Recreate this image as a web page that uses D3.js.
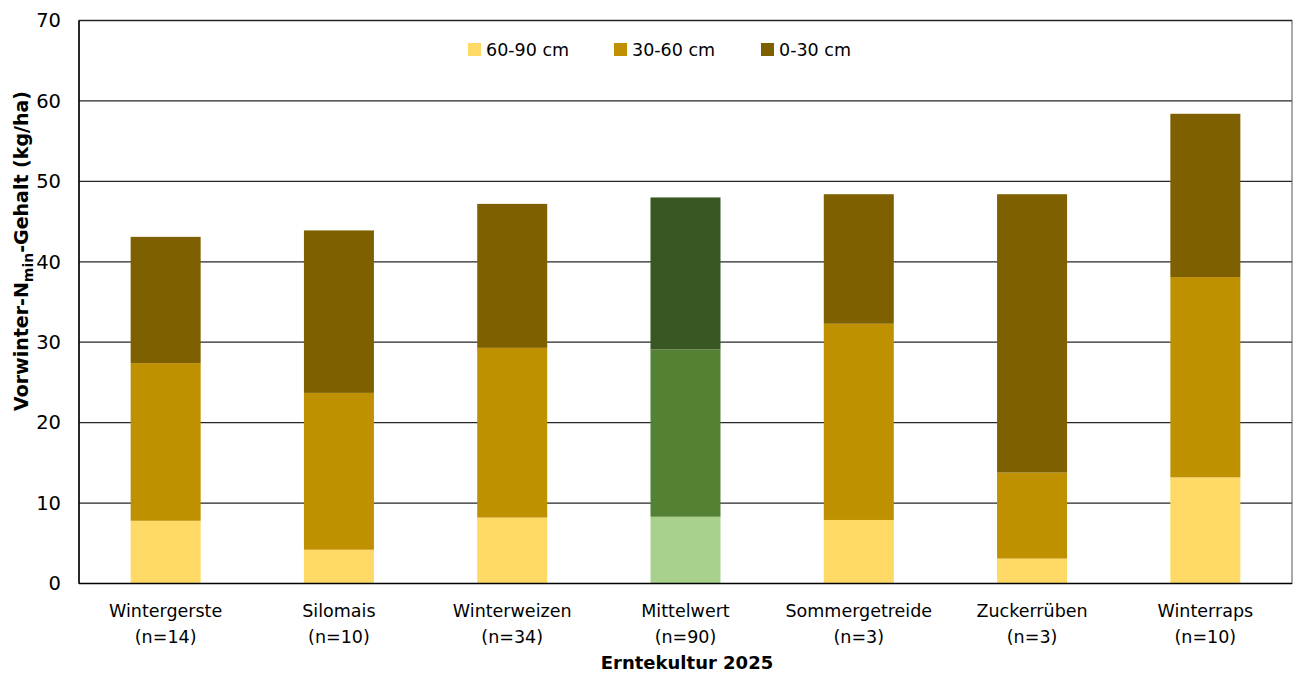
<!DOCTYPE html>
<html>
<meta charset="utf-8">
<script src="https://d3js.org/d3.v7.min.js"></script>
<style>
  body { margin: 0; background: #fff; }
  text { font-family: Tahoma, "DejaVu Sans", sans-serif; fill: #000; }
</style>
<body>
<div id="chart"></div>
<script>
var WIDTH = 1293, HEIGHT = 673;
var margin = {top: 20.5, right: 1, bottom: 89.5, left: 79};

// data
var categories = ["Wintergerste", "Silomais", "Winterweizen", "Mittelwert", "Sommergetreide", "Zuckerrüben", "Winterraps"];
var sampleSizes = ["(n=14)", "(n=10)", "(n=34)", "(n=90)", "(n=3)", "(n=3)", "(n=10)"];
var layers = ["60-90 cm", "30-60 cm", "0-30 cm"];
var deep   = [7.8, 4.2, 8.2, 8.3, 7.9, 3.1, 13.2];   // 60-90 cm
var middle = [19.6, 19.5, 21.1, 20.8, 24.4, 10.7, 24.9]; // 30-60 cm
var top30  = [15.7, 20.2, 17.9, 18.9, 16.1, 34.6, 20.3]; // 0-30 cm
var yTicks = [0, 10, 20, 30, 40, 50, 60, 70];

var colors = ["#FFD966", "#BF9000", "#7F6000"];
var meanColors = ["#A9D18E", "#548235", "#385723"];

var w = WIDTH - margin.left - margin.right;
var h = HEIGHT - margin.top - margin.bottom;

var svg = d3.select("#chart").append("svg")
    .attr("width", WIDTH).attr("height", HEIGHT);
var g = svg.append("g").attr("transform", "translate(" + margin.left + "," + margin.top + ")");

var x = d3.scaleBand().domain(categories).range([0, w]).paddingInner(0.596).paddingOuter(0.298);
var y = d3.scaleLinear().domain([0, 70]).range([h, 0]);

// gridlines
g.selectAll(".grid").data(yTicks.slice(1, -1)).enter().append("line")
    .attr("x1", 0).attr("x2", w)
    .attr("y1", function (d) { return y(d); }).attr("y2", function (d) { return y(d); })
    .attr("stroke", "#262626").attr("stroke-width", 1.3);

// stacked bars
var rows = categories.map(function (c, i) {
  return {cat: c, "60-90 cm": deep[i], "30-60 cm": middle[i], "0-30 cm": top30[i]};
});
var stacked = d3.stack().keys(layers)(rows);

stacked.forEach(function (layer, li) {
  g.selectAll(".bar" + li).data(layer).enter().append("rect")
      .attr("x", function (d) { return x(d.data.cat); })
      .attr("width", x.bandwidth())
      .attr("y", function (d) { return y(d[1]); })
      .attr("height", function (d) { return y(d[0]) - y(d[1]); })
      .attr("fill", function (d) { return d.data.cat === "Mittelwert" ? meanColors[li] : colors[li]; });
});

// frame
g.append("rect").attr("x", 0).attr("y", 0).attr("width", w).attr("height", h)
    .attr("fill", "none").attr("stroke", "#555").attr("stroke-width", 1);
g.append("line").attr("x1", 0).attr("x2", w).attr("y1", 0).attr("y2", 0)
    .attr("stroke", "#262626").attr("stroke-width", 1.5);
g.append("line").attr("x1", 0).attr("x2", 0).attr("y1", 0).attr("y2", h)
    .attr("stroke", "#000").attr("stroke-width", 1.5);
g.append("line").attr("x1", 0).attr("x2", w).attr("y1", h).attr("y2", h)
    .attr("stroke", "#000").attr("stroke-width", 1.5);

// y axis
var yAxis = g.append("g").call(d3.axisLeft(y).tickValues(yTicks).tickSize(0).tickPadding(18));
yAxis.select(".domain").remove();
yAxis.selectAll("text").style("font-size", "19.5px").style("font-family", "Tahoma, 'DejaVu Sans', sans-serif").attr("fill", "#000");

// x axis labels
var xl = g.selectAll(".xlab").data(categories).enter().append("text")
    .attr("text-anchor", "middle")
    .attr("x", function (d) { return x(d) + x.bandwidth() / 2; })
    .attr("y", 617 - margin.top)
    .style("font-size", "17.5px");
xl.append("tspan").text(function (d) { return d; });
xl.append("tspan").attr("x", function (d) { return x(d) + x.bandwidth() / 2; }).attr("dy", 25.5)
    .text(function (d, i) { return sampleSizes[i]; });

// axis titles
svg.append("text").attr("x", 687).attr("y", 669)
    .attr("text-anchor", "middle").style("font-size", "18px").style("font-weight", "bold")
    .text("Erntekultur 2025");

var yt = svg.append("text").attr("transform", "translate(28,251) rotate(-90)")
    .attr("text-anchor", "middle").style("font-size", "19px").style("font-weight", "bold");
yt.append("tspan").text("Vorwinter-N");
yt.append("tspan").attr("dy", 5).style("font-size", "14px").text("min");
yt.append("tspan").attr("dy", -5).text("-Gehalt (kg/ha)");

// legend
var legendX = [468, 614, 761];
var lg = svg.selectAll(".leg").data(layers).enter().append("g")
    .attr("transform", function (d, i) { return "translate(" + legendX[i] + ",43)"; });
lg.append("rect").attr("width", 13).attr("height", 13).attr("fill", function (d, i) { return colors[i]; });
lg.append("text").attr("x", 18).attr("y", 12.5).style("font-size", "17.5px").text(function (d) { return d; });
</script>
</body>
</html>
